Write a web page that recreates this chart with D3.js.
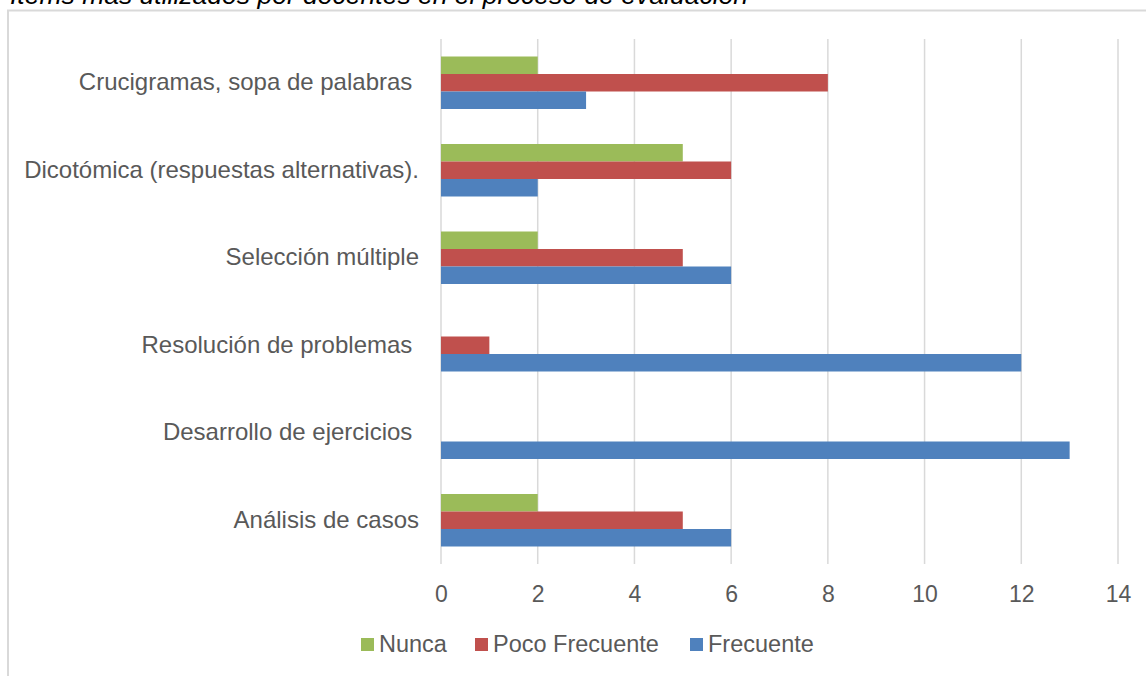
<!DOCTYPE html>
<html>
<head>
<meta charset="utf-8">
<script src="https://cdn.jsdelivr.net/npm/d3@7"></script>
<style>
    body { margin: 0; background: #fff; }
    svg text { font-family: "Liberation Sans", Arial, sans-serif; }
</style>
</head>
<body>
<div id="chart"></div>
<script>
// categories, top to bottom as drawn
var categories = [
    "Crucigramas, sopa de palabras ",
    "Dicotómica (respuestas alternativas).",
    "Selección múltiple",
    "Resolución de problemas ",
    "Desarrollo de ejercicios ",
    "Análisis de casos"
];
var seriesNames = ["Nunca", "Poco Frecuente", "Frecuente"];
var nunca = [2, 5, 2, 0, 0, 2];
var pocoFrecuente = [8, 6, 5, 1, 0, 5];
var frecuente = [3, 2, 6, 12, 13, 6];
var xTicks = [0, 2, 4, 6, 8, 10, 12, 14];
var colors = ["#9bbb59", "#c0504d", "#4f81bd"];
var title = "Ítems más utilizados por docentes en el proceso de evaluación";

var width = 1146, height = 676;
var svg = d3.select("#chart").append("svg")
        .attr("width", width)
        .attr("height", height);

// title, cut off at the top like in the source
svg.append("text")
        .attr("x", 10)
        .attr("y", 4)
        .attr("font-size", 26.5)
        .attr("font-style", "italic")
        .attr("fill", "#000")
        .text(title);

// chart frame
svg.append("rect")
        .attr("x", 8)
        .attr("y", 10.5)
        .attr("width", width)
        .attr("height", height)
        .attr("fill", "none")
        .attr("stroke", "#d9d9d9")
        .attr("stroke-width", 2);

var x = d3.scaleLinear().domain([0, 14]).range([441, 1118]);
var y = d3.scaleBand().domain(categories).range([39, 564])
        .paddingInner(0.4).paddingOuter(0.2);
var ySub = d3.scaleBand().domain(seriesNames).range([0, y.bandwidth()]);

// gridlines
svg.append("g")
        .selectAll("line")
        .data(xTicks)
        .enter()
        .append("line")
        .attr("x1", function (d) { return x(d); })
        .attr("x2", function (d) { return x(d); })
        .attr("y1", 39)
        .attr("y2", 564)
        .attr("stroke", "#d9d9d9")
        .attr("stroke-width", 1.5);

// x axis labels
var xAxis = svg.append("g")
        .attr("transform", "translate(0,564)")
        .call(d3.axisBottom(x).tickValues(xTicks).tickSize(0).tickPadding(22));
xAxis.select(".domain").remove();
xAxis.selectAll("text")
        .attr("font-size", 23)
        .attr("fill", "#595959");

// y axis labels
var yAxis = svg.append("g")
        .attr("transform", "translate(441,0)")
        .call(d3.axisLeft(y).tickSize(0).tickPadding(22));
yAxis.select(".domain").remove();
yAxis.selectAll("text")
        .attr("font-size", 24)
        .attr("fill", "#595959")
        .style("white-space", "pre");

var rows = categories.map(function (c, i) {
    return {cat: c, values: [nunca[i], pocoFrecuente[i], frecuente[i]]};
});

var group = svg.selectAll(".cat")
        .data(rows)
        .enter()
        .append("g")
        .attr("class", "cat")
        .attr("transform", function (d) {
            return "translate(0," + y(d.cat) + ")";
        });

group.selectAll("rect")
        .data(function (d) {
            return d.values.map(function (v, j) {
                return {name: seriesNames[j], value: v, color: colors[j]};
            });
        })
        .enter()
        .filter(function (d) { return d.value > 0; })
        .append("rect")
        .attr("x", x(0))
        .attr("y", function (d) { return ySub(d.name); })
        .attr("width", function (d) { return x(d.value) - x(0); })
        .attr("height", ySub.bandwidth())
        .attr("fill", function (d) { return d.color; });

// legend
var legendX = [361, 475, 690];
var legend = svg.selectAll(".legend")
        .data(seriesNames)
        .enter()
        .append("g")
        .attr("class", "legend")
        .attr("transform", function (d, i) {
            return "translate(" + legendX[i] + ",638)";
        });
legend.append("rect")
        .attr("width", 13)
        .attr("height", 13)
        .attr("fill", function (d, i) { return colors[i]; });
legend.append("text")
        .attr("x", 18)
        .attr("y", 14)
        .attr("font-size", 23.5)
        .attr("fill", "#595959")
        .text(function (d) { return d; });
</script>
</body>
</html>
